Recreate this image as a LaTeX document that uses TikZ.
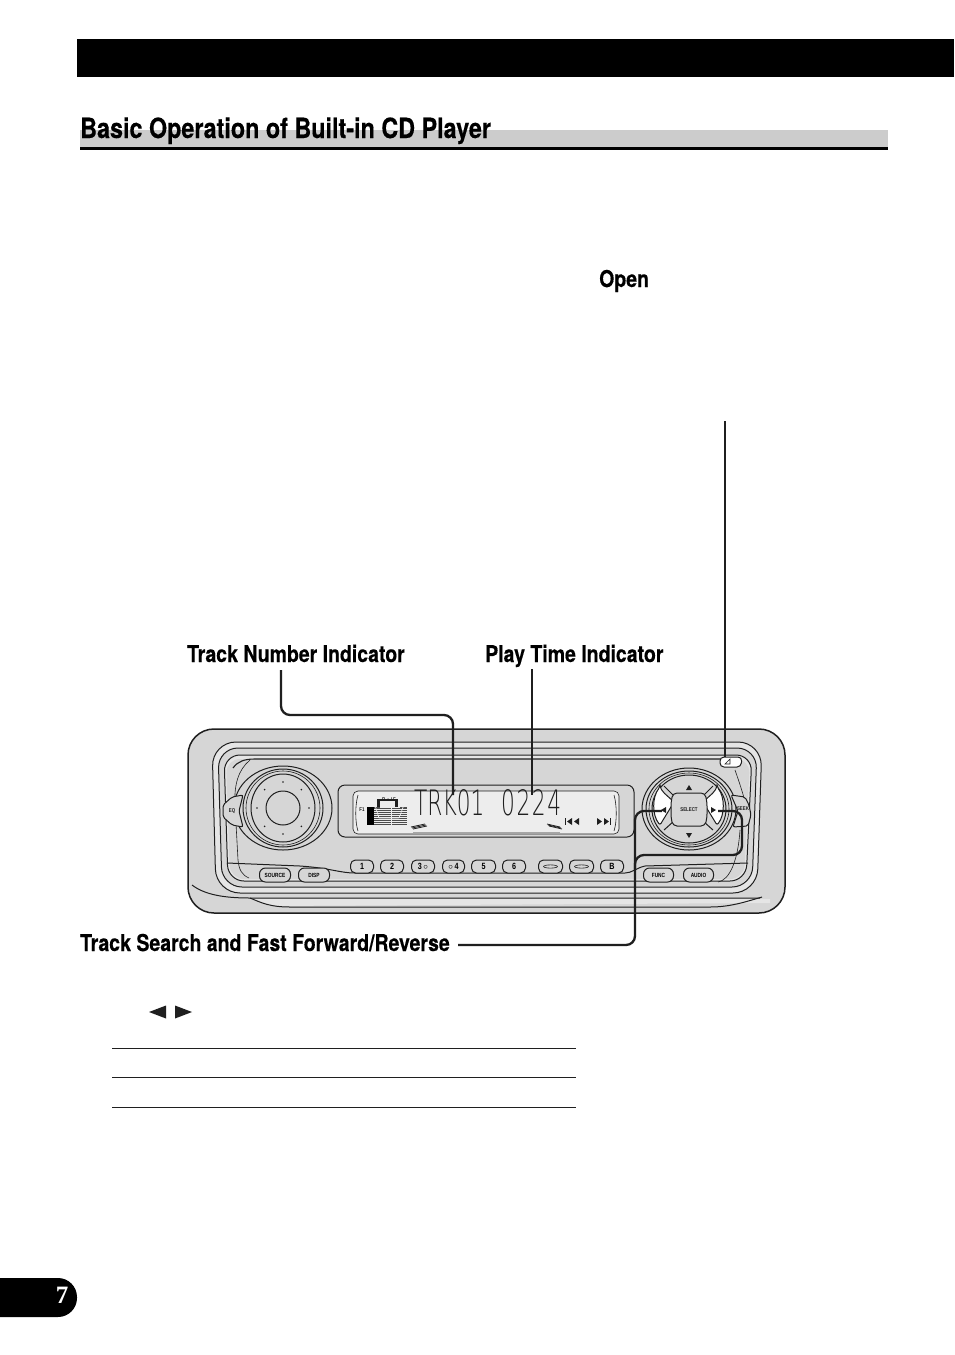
\documentclass[tikz,border=0pt]{standalone}
\usepackage{fontspec}
\setmainfont{Liberation Serif}
\newfontfamily\headf[FakeStretch=0.84,BoldFont={TeX Gyre Heros Bold},BoldFeatures={FakeStretch=0.84,FakeBold=0.25}]{TeX Gyre Heros}
\newfontfamily\lcdf[FakeStretch=0.62]{DejaVu Sans ExtraLight}
\newfontfamily\tinyf[FakeStretch=0.8]{Liberation Sans}
\definecolor{body}{gray}{0.84}
\definecolor{stripe}{gray}{0.9}
\definecolor{lcd}{gray}{0.93}
\definecolor{ink}{gray}{0.12}
\tikzset{
  heading/.style={anchor=base west,inner sep=0pt,font=\headf\bfseries\fontsize{27.8}{28}\selectfont},
  callout/.style={anchor=base west,inner sep=0pt,font=\headf\bfseries\fontsize{23.2}{24}\selectfont},
  conn/.style={draw=ink,line width=2.3pt,rounded corners=9pt},
  dev/.style={draw=ink,line width=1pt},
  devthin/.style={draw=ink,line width=0.6pt},
  btn/.style={draw=ink,line width=1pt,fill=body,rounded corners=5pt,minimum height=13pt,inner sep=0pt,font=\tinyf\bfseries\fontsize{9}{9}\selectfont},
  smallbtn/.style={draw=ink,line width=1pt,fill=body,rounded corners=6pt,minimum height=14pt,inner sep=0pt,font=\tinyf\bfseries\fontsize{6}{6}\selectfont},
  lcdtext/.style={anchor=base west,inner sep=0pt,text=ink,font=\lcdf\fontsize{35}{35}\selectfont},
  tiny/.style={inner sep=0pt,text=ink,font=\tinyf\bfseries\fontsize{5.5}{6}\selectfont},
  rule/.style={draw=ink,line width=1pt},
}
\begin{document}
\begin{tikzpicture}[x=1pt,y=-1pt]
\useasboundingbox (0,0) rectangle (954,1355);
\fill[white] (0,0) rectangle (954,1355);
% page furniture
\fill[black] (77,39) rectangle (954,77);
\fill[black!20] (80,130) rectangle (888,147);
\fill[black] (80,146.5) rectangle (888,149.5);
\node[heading] (head) at (80,138) {Basic Operation of Built-in CD Player};
\begin{scope}
\clip (0,1270) rectangle (100,1325);
\fill[black,rounded corners=19pt] (-40,1278) rectangle (77,1317);
\end{scope}
\node[text=white,inner sep=0pt,font=\bfseries\fontsize{25}{25}\selectfont] (page) at (62,1295) {7};
% body
\path[draw=ink,line width=1.5pt,fill=body,rounded corners=26pt] (188,729) rectangle (785,913);
% frames
\draw[dev,fill=stripe,rounded corners=24pt] (212,742) -- (762,742) -- (757,893) -- (216,893) -- cycle;
\draw[dev,fill=body,rounded corners=20pt] (218,748) -- (757,748) -- (752,887) -- (222,887) -- cycle;
\draw[dev,fill=stripe,rounded corners=16pt] (224,755) -- (752,755) -- (746,881) -- (228,881) -- cycle;
\fill[body,rounded corners=14pt] (226,759) -- (750,759) -- (744,879) -- (230,879) -- cycle;
\draw[dev,line width=1.1pt] (233,768) ..controls (238,761) and (245,759) .. (255,759) -- (722,759);
\draw[devthin] (250,760) ..controls (238,770) and (234,785) .. (235,805) -- (238,860) ..controls (239,870) and (242,875) .. (249,878);
\fill[stripe] (250,899) -- (770,899) -- (770,903) -- (270,906) -- cycle;
\draw[dev] (192,885) ..controls (205,895) and (225,898) .. (250,898) -- (760,898);
\draw[dev] (250,898) ..controls (262,903) and (270,907) .. (290,907) -- (710,907) ..controls (730,907) and (745,902) .. (762,897);
\draw[devthin] (735,770) ..controls (742,790) and (745,800) .. (748,815);
% lower trim line
\draw[dev] (227,863) -- (300,866) ..controls (330,868) and (340,873) .. (355,873) -- (625,873) ..controls (632,873) and (636,868) .. (645,866) -- (748,863);
\draw[devthin] (740,830) ..controls (738,860) and (730,880) .. (718,882);
% display
\draw[dev,fill=body,rounded corners=7pt] (338,785) rectangle (634,837);
\draw[devthin,fill=lcd,rounded corners=5pt] (353,791) rectangle (619,834);
% left knob
\draw[dev,fill=body] (283,808) ellipse[x radius=49,y radius=42];
\draw[dev] (283,808) ellipse[x radius=40,y radius=39];
\draw[devthin] (283,808) ellipse[x radius=37,y radius=37];
\draw[dev] (283,808) ellipse[x radius=32,y radius=34];
\draw[dev] (283,808) circle[radius=17];
\foreach \a in {0,45,...,315} \fill[ink] (283,808) ++(\a:26) circle[radius=0.9];
% EQ button
\draw[dev,fill=body,rounded corners=2pt] (243,795) -- (232,797) -- (223,805) -- (223,817) -- (232,825) -- (243,827) -- (239,811) -- cycle;
\node[tiny] (eq) at (232,811) {EQ};
% right knob
\draw[dev,fill=body] (689,809) ellipse[x radius=47,y radius=41];
\draw[dev] (689,809) ellipse[x radius=43,y radius=38];
\draw[devthin] (689,809) ellipse[x radius=40,y radius=36];
\draw[dev] (689,809) ellipse[x radius=37,y radius=34];
\draw[dev,fill=white,rounded corners=2pt] (660,787) -- (663,792) -- (674,802) -- (660,825) ..controls (652,815) and (652,797) .. cycle;
\draw[dev,fill=white,rounded corners=2pt] (717,787) -- (714,792) -- (703,802) -- (717,825) ..controls (725,815) and (725,797) .. cycle;
\draw[dev] (664,786) -- (674,796);\draw[dev] (713,786) -- (703,796);
\draw[dev] (664,830) -- (674,821);\draw[dev] (713,830) -- (703,821);
\draw[dev,fill=body,rounded corners=4pt] (673,793) -- (705,793) -- (707,802) -- (707,818) -- (705,826) -- (673,826) -- (671,818) -- (671,802) -- cycle;
\node[tiny] (sel) at (689,810) {SELECT};
\fill[ink] (689,785) -- (686,790) -- (692,790) -- cycle;
\fill[ink] (689,838) -- (686,833) -- (692,833) -- cycle;
\fill[ink] (661,810) -- (666,807) -- (666,813) -- cycle;
\fill[ink] (716,810) -- (711,807) -- (711,813) -- cycle;
% seek button
\draw[dev,fill=body,rounded corners=2pt] (731,795) -- (745,797) -- (749,805) -- (751,815) -- (748,826) -- (733,827) -- (738,811) -- cycle;
\node[tiny] (seek) at (743,809) {SEEK};
% eject
\draw[dev,fill=white,rounded corners=4pt] (720,757) -- (742,757) -- (741,767) -- (720,767) -- cycle;
\draw[devthin] (725,764) -- (730,759) -- (730,764) -- cycle;
% numbered buttons
\foreach \n/\l/\r/\t in {b1/350/373/1,b2/380/403/2,b3/411/434/3\,$\circ$,b4/442/464/$\circ$\,4,b5/471/495/5,b6/502/525/6,b9/600/623/B}
  \node[btn,minimum width=\r pt-\l pt,anchor=west] (\n) at (\l,866.5) {\t};
\foreach \n/\l/\r in {b7/538/562,b8/569/593}{
  \node[btn,minimum width=\r pt-\l pt,anchor=west] (\n) at (\l,866.5) {};
  \draw[devthin] (\n.center) ellipse[x radius=7,y radius=1.6];
}
\node[smallbtn,minimum width=31pt,anchor=west] (src) at (259,875) {SOURCE};
\node[smallbtn,minimum width=31pt,anchor=west] (disp) at (298,875) {DISP};
\node[smallbtn,minimum width=30pt,anchor=west] (func) at (643,875) {FUNC};
\node[smallbtn,minimum width=30pt,anchor=west] (audio) at (683,875) {AUDIO};
% LCD contents
\node[lcdtext] (trk) at (414,815) {TRK01};
\node[lcdtext] (time) at (501,815) {0\kern1.6pt 2\kern1.6pt 2\kern1.6pt 4};
\node[tiny] (rds) at (389,800) {R\,$\bullet$\,I\,F};
\node[tiny] (f1) at (362,810) {F1};
\draw[devthin] (358,795) ..controls (355,805) and (355,822) .. (358,831);
\draw[devthin] (614,795) ..controls (617,805) and (617,822) .. (614,831);
\fill[black] (367,807) rectangle (374,825);
\fill[black!70] (374,807) rectangle (407,825);
\foreach \y in {809,811,...,823} \draw[lcd,line width=0.4pt] (374,\y) -- (407,\y);
\draw[lcd,line width=0.7pt] (374,802) -- (379,818) -- (399,818) -- (405,802);
\draw[lcd,line width=0.7pt] (380,807) -- (400,807);
\draw[lcd,line width=0.7pt] (391,807) -- (391,825);
\fill[ink] (377,799) -- (398,799) -- (398,807) -- (377,807) -- cycle;
\fill[lcd] (380,801) -- (395,801) -- (395,807) -- (380,807) -- cycle;
\draw[black!35,line width=1pt] (413,832) -- (560,832);
\foreach \i in {0,1,2} \draw[ink,line width=0.8pt] (411+\i*1,827+\i*1) -- (425+\i*1,824+\i*1);
\foreach \i in {0,1,2} \draw[ink,line width=0.8pt] (547+\i*1,824+\i*1) -- (560+\i*1,827+\i*1);
\fill[ink] (565,818) rectangle (566.2,825);
\fill[ink] (572,818) -- (567,821.5) -- (572,825) -- cycle;
\fill[ink] (579,818) -- (574,821.5) -- (579,825) -- cycle;
\fill[ink] (597,818) -- (602,821.5) -- (597,825) -- cycle;
\fill[ink] (604,818) -- (609,821.5) -- (604,825) -- cycle;
\fill[ink] (610,818) rectangle (611.2,825);
% labels
\node[callout] (open) at (599,287) {Open};
\node[callout] (tni) at (187,662) {Track Number Indicator};
\node[callout] (pti) at (485,662) {Play Time Indicator};
\node[callout] (tsf) at (80,951) {Track Search and Fast Forward/Reverse};
% connectors
\coordinate (a1) at (281,670); \coordinate (a2) at (453,795);
\coordinate (b1) at (532,669); \coordinate (b2) at (532,795);
\coordinate (c1) at (725,421); \coordinate (c2) at (725,757);
\coordinate (d1) at (458,945); \coordinate (d2) at (662,811); \coordinate (d3) at (718,811);
\draw[conn] (a1) -- (281,715) -- (453,715) -- (a2);
\draw[conn] (b1) -- (b2);
\draw[conn] (c1) -- (c2);
\draw[conn] (d1) -- (635,945) -- (635,811) -- (d2);
\draw[conn] (635,870) -- (635,855) -- (742,855) -- (742,811) -- (d3);
% arrows and rules
\fill[ink] (149,1012) -- (166,1005.5) -- (166,1018.5) -- cycle;
\fill[ink] (192,1012) -- (175,1005.5) -- (175,1018.5) -- cycle;
\draw[rule] (112,1048.5) -- (576,1048.5);
\draw[rule] (112,1077.5) -- (576,1077.5);
\draw[rule] (112,1107) -- (576,1107);
\end{tikzpicture}
\end{document}
